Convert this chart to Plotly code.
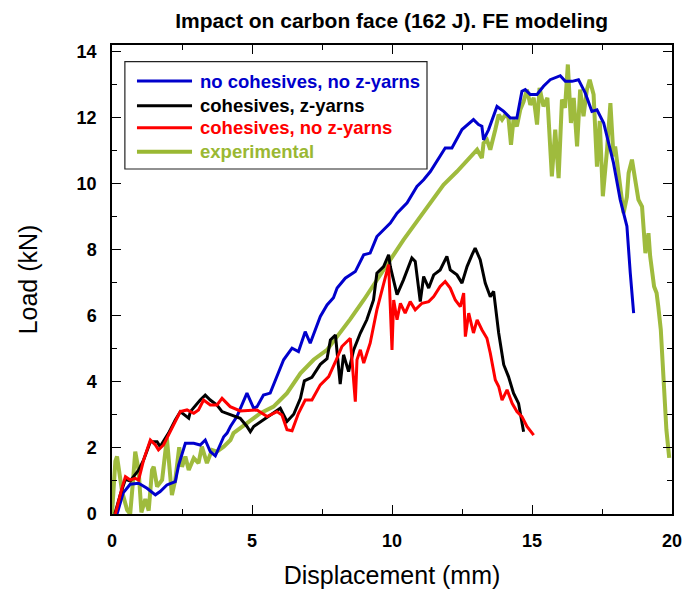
import plotly.graph_objects as go

# Load-displacement curves, impact on the carbon face (162 J)
blue_x = [0.18, 0.30, 0.40, 0.65, 0.95, 1.25, 1.55, 1.72, 1.96, 2.26, 2.38, 2.62, 2.92, 3.15, 3.33,
          3.51, 3.69, 3.99, 4.11, 4.23, 4.46, 4.82, 5.06, 5.18, 5.41, 5.65, 5.89, 6.13, 6.43, 6.66,
          6.90, 7.08, 7.44, 7.68, 7.91, 8.04, 8.33, 8.69, 8.99, 9.22, 9.46, 9.70, 9.94, 10.18, 10.54,
          10.89, 11.13, 11.37, 11.61, 11.72, 11.90, 12.14, 12.50, 12.91, 13.09, 13.21, 13.27, 13.45,
          13.75, 13.99, 14.23, 14.46, 14.64, 14.76, 14.94, 15.18, 15.41, 15.65, 16.01, 16.19, 16.43,
          16.66, 16.90, 17.14, 17.32, 17.56, 17.74, 17.91, 18.15, 18.39, 18.51, 18.63]
blue_y = [0.00, 0.35, 0.64, 0.90, 0.93, 0.78, 0.58, 0.68, 0.88, 0.98, 1.48, 2.14, 2.14, 2.09, 2.24,
          1.89, 1.76, 2.34, 2.45, 2.65, 2.95, 3.66, 3.20, 3.25, 3.60, 3.66, 4.16, 4.67, 5.02, 4.92,
          5.52, 5.17, 5.98, 6.33, 6.55, 6.84, 7.14, 7.34, 7.85, 7.90, 8.40, 8.60, 8.81, 9.11, 9.42,
          9.92, 10.12, 10.37, 10.68, 10.83, 11.08, 11.08, 11.64, 11.94, 11.79, 11.74, 11.33, 11.64,
          12.34, 12.19, 11.99, 11.99, 12.80, 12.85, 12.70, 12.70, 12.95, 13.15, 13.27, 13.10, 13.10,
          13.15, 12.75, 12.19, 12.24, 11.84, 11.23, 10.63, 9.52, 8.71, 7.29, 6.08]

black_x = [0.10, 0.30, 0.48, 0.65, 0.95, 1.13, 1.37, 1.61, 1.72, 2.02, 2.26, 2.44, 2.74, 2.80, 3.15,
           3.33, 3.51, 3.75, 3.93, 4.22, 4.58, 4.82, 4.94, 5.06, 5.41, 5.65, 6.01, 6.25, 6.49, 6.73,
           6.87, 7.14, 7.44, 7.68, 7.80, 7.98, 8.15, 8.27, 8.45, 8.63, 8.87, 9.10, 9.22, 9.34, 9.46,
           9.70, 9.88, 9.94, 10.18, 10.41, 10.71, 10.83, 11.01, 11.13, 11.31, 11.49, 11.72, 11.96,
           12.08, 12.32, 12.50, 12.68, 12.86, 12.97, 13.15, 13.33, 13.51, 13.63, 13.81, 13.99, 14.16,
           14.34, 14.52, 14.70]
black_y = [0.00, 0.60, 1.05, 1.00, 1.33, 1.64, 2.19, 2.19, 2.04, 2.45, 2.85, 3.10, 2.90, 3.10, 3.45,
           3.60, 3.45, 3.30, 3.10, 3.00, 2.90, 2.65, 2.49, 2.65, 2.85, 3.00, 3.20, 2.80, 3.02, 3.50,
           4.03, 4.14, 4.53, 4.70, 5.27, 5.42, 3.93, 4.82, 4.31, 4.97, 5.48, 5.88, 6.18, 6.48, 7.29,
           7.49, 7.85, 7.49, 6.64, 7.09, 7.75, 7.65, 6.43, 7.19, 6.84, 7.24, 7.39, 7.80,
           7.39, 7.24, 6.99, 7.49, 7.85, 8.05, 7.70, 6.99, 6.58, 6.74, 5.48, 4.52, 4.16,
           3.66, 3.35, 2.49]

red_x = [0.12, 0.30, 0.36, 0.48, 0.65, 0.83, 0.95, 1.13, 1.37, 1.55, 1.66, 1.84, 2.02, 2.26, 2.44,
         2.68, 2.92, 3.09, 3.27, 3.51, 3.75, 3.93, 4.22, 4.58, 4.94, 5.18, 5.54, 5.89, 6.07, 6.25,
         6.43, 6.66, 6.90, 7.14, 7.44, 7.74, 7.98, 8.21, 8.51, 8.69, 8.75, 8.87, 8.99, 9.22, 9.46,
         9.70, 9.88, 10.00, 10.06, 10.18, 10.30, 10.47, 10.65, 10.83, 11.07, 11.31, 11.49, 11.72,
         11.90, 12.08, 12.26, 12.44, 12.56, 12.62, 12.74, 12.91, 13.04, 13.21, 13.39, 13.51, 13.69,
         13.81, 13.93, 14.11, 14.29, 14.46, 14.64, 14.82, 15.06]
red_y = [0.00, 0.64, 0.80, 1.13, 1.03, 1.08, 1.03, 1.64, 2.24, 2.09, 1.94, 2.09, 2.39, 2.75, 3.10,
         3.15, 3.05, 3.15, 3.45, 3.30, 3.30, 3.50, 3.25, 3.12, 3.15, 3.15, 2.95, 3.10, 3.00, 2.55,
         2.52, 3.05, 3.45, 3.45, 3.91, 4.16, 4.61, 5.07, 5.32, 3.40, 4.67, 4.97, 4.57, 5.17, 6.18,
         6.99, 7.55, 4.97, 6.48, 5.88, 6.38, 6.08, 6.43, 6.18, 6.38, 6.43, 6.58, 6.89,
         7.04, 6.84, 6.48, 6.28, 6.69, 5.37, 6.08, 5.48, 5.88, 5.58, 5.32, 4.87, 4.06,
         3.86, 3.45, 3.76, 3.35, 3.10, 2.95, 2.65, 2.39]

exp_x = [0.00, 0.05, 0.12, 0.18, 0.24, 0.36, 0.54, 0.65, 0.75, 0.83, 0.95, 1.05, 1.19, 1.31, 1.43,
         1.49, 1.61, 1.79, 1.96, 2.08, 2.14, 2.26, 2.40, 2.50, 2.62, 2.74, 2.92, 3.09, 3.21, 3.39,
         3.57, 3.75, 3.99, 4.23, 4.34, 4.82, 5.30, 5.77, 6.25, 6.73, 7.20, 7.68, 8.04, 8.51, 8.99,
         9.46, 9.94, 10.41, 10.89, 11.37, 11.84, 12.32, 12.68, 13.04, 13.21, 13.27, 13.39, 13.51,
         13.69, 13.81, 13.93, 14.05, 14.16, 14.25, 14.34, 14.46, 14.58, 14.70, 14.82, 14.94, 15.06,
         15.18, 15.27, 15.41, 15.55, 15.63, 15.71, 15.83, 15.95, 16.07, 16.18, 16.28, 16.39, 16.49,
         16.61, 16.72, 16.84, 16.96, 17.06, 17.20, 17.32, 17.42, 17.53, 17.68, 17.80, 17.91, 17.97,
         18.09, 18.27, 18.39, 18.45, 18.57, 18.69, 18.80, 18.93, 19.05, 19.16, 19.22, 19.36, 19.45,
         19.51, 19.60, 19.66, 19.74, 19.80, 19.90]
exp_y = [0.00, 0.90, 1.60, 1.74, 1.33, 0.68, 0.12, 0.00, 1.00, 1.89, 1.33, 0.05, 0.45, 0.10, 1.33,
         1.43, 0.83, 1.03, 2.30, 1.10, 0.57, 1.03, 2.02, 1.43, 1.74, 1.33, 1.69, 1.54, 2.04, 1.54,
         1.94, 1.89, 2.04, 2.24, 2.45, 2.75, 3.05, 3.25, 3.66, 4.26, 4.67, 4.97, 5.37, 5.90, 6.48,
         7.09, 7.70, 8.30, 8.86, 9.42, 9.97, 10.37, 10.68, 11.03, 10.78, 11.23, 11.33, 11.03,
         11.64, 12.09, 11.94, 12.09, 11.99, 11.18, 11.94, 11.74, 12.24, 12.49, 12.85, 12.39, 12.60,
         11.79, 12.90, 12.34, 12.60, 11.40, 10.22, 11.64, 10.17, 12.55, 12.30, 13.61, 11.84, 12.60,
         11.13, 12.85, 12.04, 12.85, 13.15, 12.70, 10.52, 11.90, 9.62, 11.03, 12.44, 10.83, 11.13,
         10.32, 9.11, 9.60, 10.32, 10.73, 10.12, 9.52, 9.31, 7.90, 8.50, 7.80, 6.89, 6.69,
         6.28, 5.58, 4.67, 3.45, 2.55, 1.70]

series_names = ["no cohesives, no z-yarns", "cohesives, z-yarns", "cohesives, no z-yarns", "experimental"]
series_colors = ["#0000cc", "#000000", "#ff0000", "#9ab833"]
series_widths = [3, 3, 3, 4]
series_data = [(blue_x, blue_y), (black_x, black_y), (red_x, red_y), (exp_x, exp_y)]

x_ticks = [0, 5, 10, 15, 20]
y_ticks = [0, 2, 4, 6, 8, 10, 12, 14]

FONT = "Liberation Sans, Arial, Helvetica, sans-serif"

fig = go.Figure()
# experimental curve drawn first so the models sit on top of it where they cross
draw_order = [3, 0, 1, 2]
for i in draw_order:
    xs, ys = series_data[i]
    fig.add_trace(go.Scatter(
        x=xs, y=ys, mode="lines", name=series_names[i],
        line=dict(color=series_colors[i], width=series_widths[i]),
        opacity=0.95 if i == 3 else 1.0,
        showlegend=False,
    ))

# boxed legend in the upper-left corner of the plot area
lg_x0, lg_x1, lg_y0, lg_y1 = 0.023, 0.5625, 0.7356, 0.9644
fig.add_shape(type="rect", xref="paper", yref="paper", x0=lg_x0, x1=lg_x1, y0=lg_y0, y1=lg_y1,
              line=dict(color="#222222", width=1.2), fillcolor="white", layer="above")
row_y = [0.9232, 0.8706, 0.8237, 0.7725]
for i, yy in enumerate(row_y):
    fig.add_shape(type="line", xref="paper", yref="paper", x0=0.0446, x1=0.1429, y0=yy, y1=yy,
                  line=dict(color=series_colors[i], width=series_widths[i]), layer="above")
    fig.add_annotation(xref="paper", yref="paper", x=0.1536, y=yy, xanchor="left", yanchor="middle",
                       text=series_names[i], showarrow=False,
                       font=dict(family=FONT, size=18.5, color=series_colors[i], weight="bold"))

axis_common = dict(
    showline=True, linecolor="black", linewidth=1.5, mirror="ticks",
    ticks="inside", ticklen=9, tickwidth=1, tickcolor="black",
    showgrid=False, zeroline=False, automargin=False,
    tickfont=dict(family=FONT, size=18, color="black", weight="bold"),
)

fig.update_xaxes(
    range=[0, 20], tickvals=x_ticks, ticktext=[str(v) for v in x_ticks],
    minor=dict(ticks="inside", ticklen=5, tickwidth=1, tickcolor="black", dtick=2.5, tick0=0),
    ticklabelstandoff=10,
    title=dict(text="Displacement (mm)", font=dict(family=FONT, size=25, color="black"), standoff=16),
    **axis_common,
)
fig.update_yaxes(
    range=[0, 14.2], tickvals=y_ticks, ticktext=[str(v) for v in y_ticks],
    minor=dict(ticks="inside", ticklen=5, tickwidth=1, tickcolor="black", dtick=1, tick0=0),
    ticklabelstandoff=10,
    title=dict(text="Load (kN)", font=dict(family=FONT, size=25, color="black"), standoff=32),
    **axis_common,
)

fig.update_layout(
    width=683, height=597,
    margin=dict(l=112, r=11, t=45, b=83, autoexpand=False),
    paper_bgcolor="white", plot_bgcolor="white",
    title=dict(text="Impact on carbon face (162 J). FE modeling", x=0.5735, xanchor="center",
               y=0.966, yanchor="middle",
               font=dict(family=FONT, size=21, color="black", weight="bold")),
    showlegend=False,
)

fig.write_html("out.html")
